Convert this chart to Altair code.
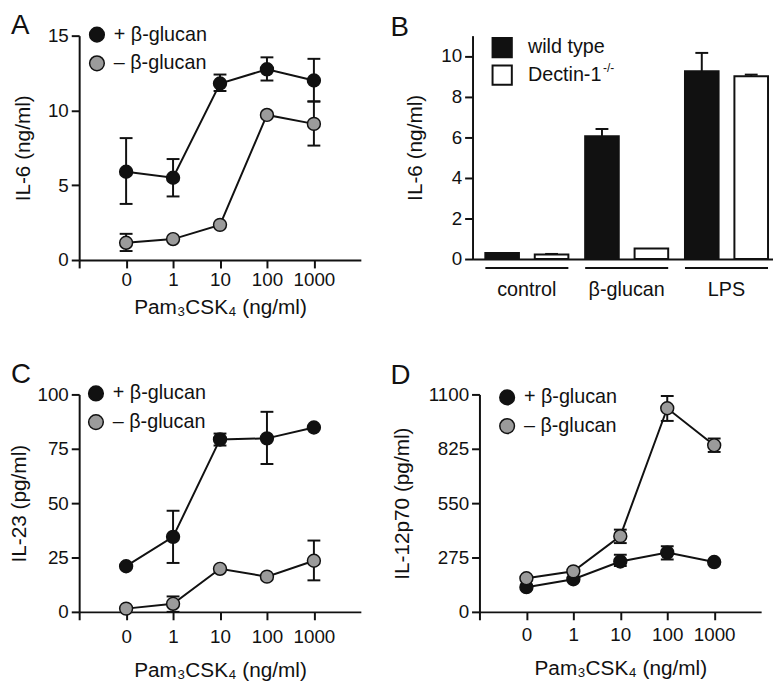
import altair as alt
import pandas as pd

FONT = "Liberation Sans"
INK = "#111111"
GREY = "#9b9b9b"

PAM_LABELS = ["", "0", "1", "10", "100", "1000"]
PAM_TITLE = "Pam₃CSK₄ (ng/ml)"
SERIES = ["+ β-glucan", "– β-glucan"]

# Panel A: IL-6 (ng/ml)
A_PLUS = [5.9, 5.5, 11.8, 12.75, 12.0]
A_PLUS_LO = [3.75, 4.25, 11.3, 12.0, 10.6]
A_PLUS_HI = [8.15, 6.75, 12.4, 13.55, 13.45]
A_MINUS = [1.15, 1.4, 2.35, 9.7, 9.1]
A_MINUS_LO = [0.6, None, None, None, 7.65]
A_MINUS_HI = [1.75, None, None, None, 10.6]

# Panel B: IL-6 (ng/ml), bars
B_GROUPS = ["control", "β-glucan", "LPS"]
B_GENOTYPES = ["wild type", "Dectin-1"]
B_WT = [0.3, 6.05, 9.25]
B_WT_HI = [None, 6.4, 10.15]
B_KO = [0.22, 0.52, 9.0]
B_KO_HI = [0.25, None, 9.08]

# Panel C: IL-23 (pg/ml)
C_PLUS = [21.0, 34.5, 79.3, 79.8, 84.8]
C_PLUS_LO = [None, 22.5, 76.5, 68.0, None]
C_PLUS_HI = [None, 46.5, 82.0, 92.0, None]
C_MINUS = [1.5, 3.7, 19.8, 16.2, 23.5]
C_MINUS_LO = [None, 0.0, None, None, 14.5]
C_MINUS_HI = [None, 7.1, None, None, 32.8]

# Panel D: IL-12p70 (pg/ml)
D_PLUS = [125, 165, 255, 300, 252]
D_PLUS_LO = [None, None, 232, 265, None]
D_PLUS_HI = [None, None, 289, 332, None]
D_MINUS = [170, 205, 383, 1030, 843]
D_MINUS_LO = [None, None, 348, 966, 809]
D_MINUS_HI = [None, None, 416, 1092, 877]

LABEL_EXPR = "[" + ",".join("'%s'" % s for s in PAM_LABELS) + "][datum.value + 1]"


def letter_mark(text, px, py):
    return alt.Chart(pd.DataFrame({"t": [text]})).mark_text(
        font=FONT, fontSize=28, align="left", baseline="alphabetic", color=INK).encode(
        text="t:N", x=alt.value(px), y=alt.value(py))


def line_panel(letter, plus, plus_lo, plus_hi, minus, minus_lo, minus_hi,
               ymax, yticks, ytitle, height, lx, ly, letter_xy, lab_pad, tit_pad, y_tit_pad):
    rows = []
    for s, vals, lo, hi in [(SERIES[0], plus, plus_lo, plus_hi),
                            (SERIES[1], minus, minus_lo, minus_hi)]:
        for i, (v, l, h) in enumerate(zip(vals, lo, hi)):
            rows.append({"idx": i, "series": s, "value": v, "lo": l, "hi": h})
    df = pd.DataFrame(rows)
    err = df.dropna(subset=["lo", "hi"])

    xaxis = alt.Axis(values=list(range(-1, 5)), labelExpr=LABEL_EXPR, title=PAM_TITLE,
                     labelPadding=lab_pad, titlePadding=tit_pad)
    xscale = alt.Scale(domain=[-1, 5], nice=False, zero=False)
    yscale = alt.Scale(domain=[0, ymax], nice=False)
    yaxis = alt.Axis(values=yticks, title=ytitle, titlePadding=y_tit_pad, format="d")

    def X(f="idx:Q"):
        return alt.X(f, scale=xscale, axis=xaxis)

    def Y(f):
        return alt.Y(f, scale=yscale, axis=yaxis)

    line = alt.Chart(df).mark_line(color=INK, strokeWidth=2).encode(
        x=X(), y=Y("value:Q"), detail="series:N")
    rule = alt.Chart(err).mark_rule(color=INK, strokeWidth=2).encode(
        x=X(), y=Y("lo:Q"), y2="hi:Q")
    cap_lo = alt.Chart(err).mark_tick(color=INK, orient="horizontal", size=13, thickness=2,
                                      opacity=1).encode(x=X(), y=Y("lo:Q"))
    cap_hi = alt.Chart(err).mark_tick(color=INK, orient="horizontal", size=13, thickness=2,
                                      opacity=1).encode(x=X(), y=Y("hi:Q"))
    pts = alt.Chart(df).mark_circle(size=170, stroke=INK, strokeWidth=1.5, opacity=1).encode(
        x=X(), y=Y("value:Q"),
        fill=alt.Fill("series:N", scale=alt.Scale(domain=SERIES, range=[INK, GREY]),
                      legend=alt.Legend(title=None, orient="none", legendX=lx, legendY=ly,
                                        symbolType="circle", symbolSize=220,
                                        symbolStrokeColor=INK, symbolStrokeWidth=1.5,
                                        labelFontSize=20, labelFont=FONT, labelColor=INK,
                                        labelOffset=7, rowPadding=7, labelLimit=0, padding=0)))
    lab = letter_mark(letter, *letter_xy)
    return alt.layer(line, rule, cap_lo, cap_hi, pts, lab).properties(width=285, height=height)


# ---- Panel B ----
b_rows = []
for gi, g in enumerate(B_GROUPS):
    b_rows.append({"group": g, "genotype": B_GENOTYPES[0], "value": B_WT[gi], "hi": B_WT_HI[gi]})
    b_rows.append({"group": g, "genotype": B_GENOTYPES[1], "value": B_KO[gi], "hi": B_KO_HI[gi]})
b_df = pd.DataFrame(b_rows)
b_err = b_df.dropna(subset=["hi"])

bx_scale = alt.Scale(paddingInner=0.168, paddingOuter=0.089, align=0.72)
bx_axis = alt.Axis(title=None, ticks=False, tickSize=0, labelAngle=0, labelPadding=21,
                   labelFontSize=20)
b_yscale = alt.Scale(domain=[0, 11], nice=False)
b_yaxis = alt.Axis(values=[0, 2, 4, 6, 8, 10], title="IL-6 (ng/ml)", titlePadding=16)
b_off = alt.XOffset("genotype:N", sort=B_GENOTYPES, scale=alt.Scale(paddingInner=0.32, paddingOuter=0))


def BX():
    return alt.X("group:N", sort=B_GROUPS, scale=bx_scale, axis=bx_axis)


bars = alt.Chart(b_df).mark_bar(stroke=INK, strokeWidth=2).encode(
    x=BX(), xOffset=b_off,
    y=alt.Y("value:Q", scale=b_yscale, axis=b_yaxis),
    fill=alt.Fill("genotype:N", scale=alt.Scale(domain=B_GENOTYPES, range=[INK, "white"]),
                  legend=alt.Legend(title=None, orient="none", legendX=19, legendY=1,
                                    symbolType="square", symbolSize=380,
                                    symbolStrokeColor=INK, symbolStrokeWidth=2,
                                    labelFontSize=20, labelFont=FONT, labelColor=INK,
                                    labelOffset=15, rowPadding=0, labelLimit=0, padding=0)))
b_rule = alt.Chart(b_err).mark_rule(color=INK, strokeWidth=2).encode(
    x=BX(), xOffset=b_off, y=alt.Y("value:Q", scale=b_yscale, axis=b_yaxis), y2="hi:Q")
b_cap = alt.Chart(b_err).mark_tick(color=INK, orient="horizontal", size=13, thickness=2,
                                   opacity=1).encode(
    x=BX(), xOffset=b_off, y=alt.Y("hi:Q", scale=b_yscale, axis=b_yaxis))
b_under = alt.Chart(pd.DataFrame({"group": B_GROUPS})).mark_tick(
    color=INK, orient="horizontal", size=84, thickness=2, opacity=1).encode(
    x=BX(), y=alt.value(235))
b_sup = alt.Chart(pd.DataFrame({"t": ["-/-"]})).mark_text(
    font=FONT, fontSize=12, align="left", baseline="middle", color=INK).encode(
    text="t:N", x=alt.value(132), y=alt.value(33))

panel_b = alt.layer(bars, b_rule, b_cap, b_under, b_sup, letter_mark("B", -83, 0)).properties(
    width=304, height=226)

panel_a = line_panel("A", A_PLUS, A_PLUS_LO, A_PLUS_HI, A_MINUS, A_MINUS_LO, A_MINUS_HI,
                     15, [0, 5, 10, 15], "IL-6 (ng/ml)", 227, 8, -11, (-69, -2), 3, 7, 14)
panel_c = line_panel("C", C_PLUS, C_PLUS_LO, C_PLUS_HI, C_MINUS, C_MINUS_LO, C_MINUS_HI,
                     100, [0, 25, 50, 75, 100], "IL-23 (pg/ml)", 220, 7, -11, (-69, -12), 8, 13, 8)
panel_d = line_panel("D", D_PLUS, D_PLUS_LO, D_PLUS_HI, D_MINUS, D_MINUS_LO, D_MINUS_HI,
                     1100, [0, 275, 550, 825, 1100], "IL-12p70 (pg/ml)", 220, 18, -7, (-90, -11), 6, 13, 16)

row1 = alt.hconcat(panel_a, panel_b, spacing=30).resolve_scale(fill="independent").resolve_legend(fill="independent")
row2 = alt.hconcat(panel_c, panel_d, spacing=30).resolve_scale(fill="independent").resolve_legend(fill="independent")

chart = alt.vconcat(row1, row2, spacing=44).properties(padding=0).resolve_scale(
    fill="independent").resolve_legend(fill="independent").configure_view(
    stroke=None
).configure_axis(
    domainColor=INK, domainWidth=2, tickColor=INK, tickWidth=2, tickSize=8,
    labelFont=FONT, labelFontSize=19, labelColor=INK, labelPadding=3,
    titleFont=FONT, titleFontSize=21, titleFontWeight="normal", titleColor=INK, grid=False
)

chart.save("out.html", embed_options={"renderer": "svg", "actions": False})
